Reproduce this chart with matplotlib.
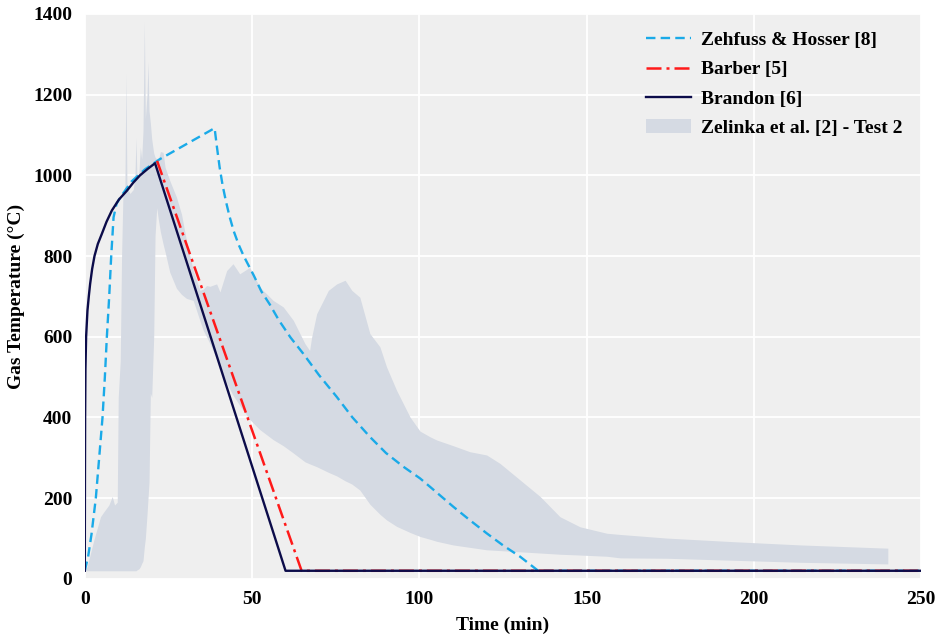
import matplotlib
matplotlib.use("Agg")
import matplotlib.pyplot as plt

plt.rcParams["font.family"] = ["Liberation Serif", "DejaVu Serif"]
plt.rcParams["font.weight"] = "bold"

# ==== Zehfuss & Hosser [8] ====
zh_t = [0, 1, 2, 3.3, 4.3, 5.3, 6.0, 6.6, 7.3, 7.9, 8.6, 9.5, 11, 14, 18, 22.4,
        38.8, 39.5, 40.3, 41.2, 42.2, 43.3, 44.5, 46.0, 47.5, 49.0, 50.5, 52.8,
        55.3, 58, 61.5, 65.3, 70, 75.3, 80, 85.2, 90, 95.2, 100.2, 103.2, 110.1,
        115, 120.1, 125, 130.1, 135.5, 250]
zh_T = [20, 55, 110, 200, 300, 400, 500, 600, 700, 800, 896, 930, 950, 985, 1015, 1040,
        1117, 1070, 1020, 975, 935, 897, 862, 828, 800, 776, 752, 712,
        680, 641, 598, 558, 505, 451, 400, 352, 312, 278, 249, 228, 179,
        146, 113, 83, 55, 20, 20]

# ==== Barber [5] ====
barber_t = [21.6, 64.8, 250]
barber_T = [1036, 20, 20]

# ==== Brandon [6] ====
brandon_t = [0, 0.05, 0.1, 0.2, 0.4, 0.8, 1.2, 1.6, 2.2, 2.9, 3.9, 5.1, 6.5, 8.1,
             10.2, 12.6, 14.5, 16.5, 18.8, 21.0, 60, 250]
brandon_T = [20, 250, 400, 520, 600, 665, 700, 731, 768, 800, 830, 855, 885, 913,
             940, 962, 982, 1000, 1016, 1030, 20, 20]

# ==== Zelinka et al. [2] - Test 2 (envelope) ====
band_t = [0.0, 0.7, 2.7, 4.7, 5.7, 7.2, 8.2, 8.9, 9.7, 10.0, 10.6, 11.0, 11.4, 12.0,
          12.3, 12.6, 13.5, 14.5, 15.0, 15.3, 15.6, 16.2, 16.6, 17.0, 17.4, 17.8,
          18.1, 18.6, 18.9, 19.2, 19.6, 20.0, 20.6, 21.0, 21.5, 22.0, 22.6, 23.4,
          24.0, 25.4, 27.4, 28.9, 30.4, 32.4, 33.4, 34.4, 35.4, 36.4, 37.4, 39.4,
          40.4, 42.4, 44.3, 46.3, 49.3, 52.3, 56.3, 59.3, 62.3, 65.8, 67.2, 67.8,
          69.3, 71.3, 72.8, 75.3, 77.8, 79.8, 82.2, 85.2, 88.2, 90.2, 93.2, 97.2,
          100.2, 103.2, 105.2, 110.1, 115.1, 120.1, 124.1, 130.1, 136.1, 142.0,
          148.0, 156.0, 160.0, 174.0, 194.0, 214.0, 240.0]
band_lo = [20, 20, 20, 20, 20, 20, 20, 20, 20, 20, 20, 20, 20, 20,
           20, 20, 20, 20, 20, 20, 22, 25, 30, 38, 45, 80,
           100, 160, 200, 240, 460, 450, 600, 850, 920, 890, 860, 830,
           810, 760, 720, 705, 695, 690, 665, 640, 616, 600, 583, 545,
           525, 485, 455, 430, 395, 370, 345, 330, 312, 290, 285, 283,
           278, 270, 264, 255, 243, 235, 220, 185, 160, 146, 130, 115,
           105, 98, 93, 84, 78, 72, 70, 67, 64, 61,
           59, 56, 52, 51, 46, 41, 37]
band_hi = [25, 30, 96, 154, 166, 183, 204, 183, 190, 450, 540, 800, 950, 975,
           1253, 970, 955, 965, 1000, 1093, 990, 1010, 1070, 1040, 1110, 1381,
           1140, 1200, 1282, 1160, 1130, 1090, 1055, 1045, 1040, 1040, 1059, 1057,
           1020, 987, 946, 904, 838, 764, 740, 715, 718, 727, 725, 731,
           711, 764, 781, 756, 772, 723, 690, 674, 641, 583, 566, 599,
           657, 690, 715, 731, 740, 715, 698, 608, 575, 525, 467, 401,
           366, 352, 344, 330, 315, 307, 286, 245, 204, 154,
           129, 113, 110, 101, 92, 84, 76]

fig = plt.figure(figsize=(9.42, 6.34), dpi=100)
ax = fig.add_axes([0.090, 0.087, 0.888, 0.891])
ax.set_facecolor("#EFEFEF")
ax.grid(True, color="white", linewidth=1.3)
ax.set_axisbelow(True)
for s in ax.spines.values():
    s.set_visible(False)

ax.fill_between(band_t, band_lo, band_hi, color="#D5DAE3", linewidth=0,
                label="Zelinka et al. [2] - Test 2")
ax.plot(zh_t, zh_T, color="#1AAAE8", linestyle=(0, (4, 2.2)), linewidth=1.7,
        label="Zehfuss & Hosser [8]")
ax.plot(barber_t, barber_T, color="#FF1A1A", linestyle=(0, (6, 2, 1.2, 2)),
        linewidth=1.8, label="Barber [5]")
ax.plot(brandon_t, brandon_T, color="#0C0C4A", linewidth=1.7, label="Brandon [6]")

ax.set_xlim(0, 250)
ax.set_ylim(0, 1400)
ax.set_xticks([0, 50, 100, 150, 200, 250])
ax.set_yticks(range(0, 1401, 200))
ax.tick_params(length=0, pad=9, labelsize=14)
ax.set_xlabel("Time (min)", fontsize=14, fontweight="bold", labelpad=6)
ax.set_ylabel("Gas Temperature (\u00b0C)", fontsize=14, fontweight="bold", labelpad=6)

handles, labels = ax.get_legend_handles_labels()
order = [1, 2, 3, 0]
ax.legend([handles[i] for i in order], [labels[i] for i in order],
          loc="upper right", bbox_to_anchor=(0.999, 1.0), frameon=False,
          fontsize=14, handlelength=2.3, handletextpad=0.55, labelspacing=0.6)

fig.savefig("out.png", dpi=100)
